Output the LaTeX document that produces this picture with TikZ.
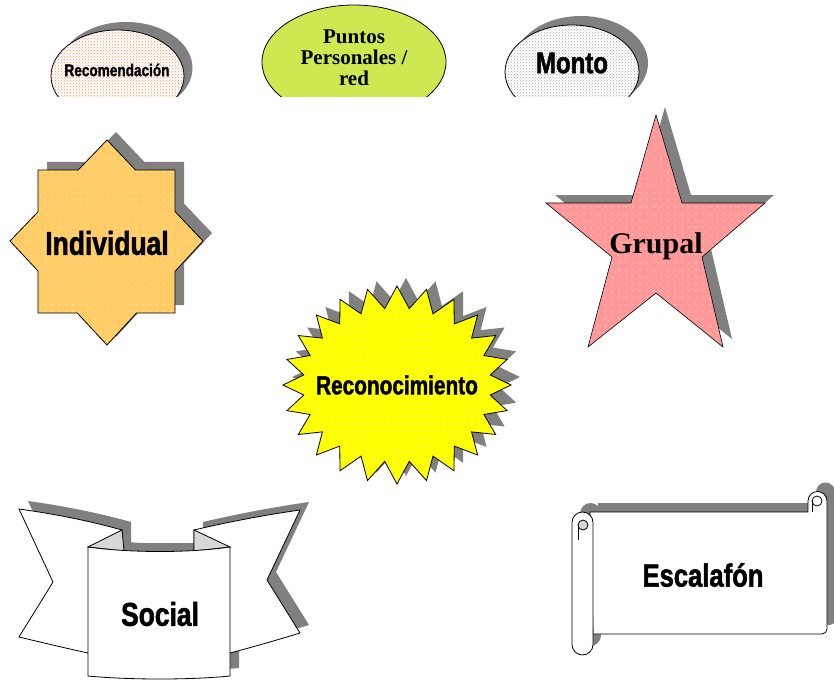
\documentclass[tikz,border=0pt]{standalone}
\usepackage{fontspec}
\setmainfont{Liberation Serif}
\newfontfamily\imp[FakeStretch=0.8,BoldFeatures={FakeBold=1.6}]{Liberation Sans}
\usetikzlibrary{patterns,patterns.meta}
\definecolor{shd}{RGB}{128,128,128}
\definecolor{indfill}{RGB}{255,204,102}
\definecolor{grufill}{RGB}{255,153,153}
\definecolor{burstfill}{RGB}{255,255,0}
\definecolor{limefill}{RGB}{206,232,82}
\definecolor{dotorange}{RGB}{250,150,90}
\definecolor{foldgray}{RGB}{215,215,215}
\tikzdeclarepattern{
  name=wdots,
  type=uncolored,
  bounding box={(0pt,0pt) and (7pt,7pt)},
  tile size={(7pt,7pt)},
  code={\fill (3.5pt,3.5pt) circle (0.7pt);}
}
\begin{document}
\begin{tikzpicture}[x=1pt,y=-1pt,line join=miter,
  outl/.style={draw=black,line width=0.8pt},
  shadowfill/.style={fill=shd},
  wdotfill/.style={pattern=wdots,pattern color=white},
  imptext/.style={font=\imp\bfseries\fontsize{#1}{#1}\selectfont},
  sertext/.style={font=\bfseries\fontsize{#1}{#1}\selectfont}]
\useasboundingbox (0,0) rectangle (834,679);

% ---------- top ellipses (clipped) ----------
\begin{scope}
\clip (0,0) rectangle (834,97);
% Recomendacion
\fill[shadowfill] (126,68) ellipse [x radius=66.5, y radius=46];
\fill[white] (117.5,76) ellipse [x radius=66.5, y radius=46];
\fill[pattern=crosshatch dots,pattern color=dotorange] (117.5,76) ellipse [x radius=66.5, y radius=46];
\draw[outl] (117.5,76) ellipse [x radius=66.5, y radius=46];
% Puntos
\fill[limefill] (354,62) ellipse [x radius=92, y radius=57];
\draw[outl] (354,62) ellipse [x radius=92, y radius=57];
% Monto
\fill[shadowfill] (581,63) ellipse [x radius=67, y radius=47];
\fill[white] (572,72) ellipse [x radius=67, y radius=47];
\fill[pattern=crosshatch dots,pattern color=gray!70] (572,72) ellipse [x radius=67, y radius=47];
\draw[outl] (572,72) ellipse [x radius=67, y radius=47];
\end{scope}
\node[imptext=17] (recom) at (117,70) {Recomendación};
\node[sertext=21,align=center,text depth=0pt] (puntos) at (354,58) {Puntos\\[0pt]Personales /\\[0pt]red};
\node[imptext=30] (monto) at (572,63) {Monto};

% ---------- Individual (8-point star) ----------
\def\indpath{(107,140) -- (135.5,170) -- (175,170) -- (175,211.5) -- (203,241) -- (175,271.4) -- (175,313) -- (136.5,313) -- (107,345) -- (77.2,313) -- (38,313) -- (38,271) -- (10,241) -- (38,211.8) -- (38,170) -- (78.2,170) -- cycle}
\fill[shadowfill,shift={(9,-8)}] \indpath;
\fill[indfill] \indpath;
\fill[wdotfill] \indpath;
\draw[outl] \indpath;
\node[imptext=33] (individual) at (107,243) {Individual};

% ---------- Grupal (5-point star) ----------
\def\grupath{(656,115) -- (682,203) -- (765,203) -- (702,257) -- (723,347) -- (656,293) -- (588,347) -- (612,257) -- (546,203) -- (631,203) -- cycle}
\fill[shadowfill,shift={(9,-8)}] \grupath;
\fill[grufill] \grupath;
\fill[wdotfill] \grupath;
\draw[outl,line width=0.6pt] \grupath;
\node[sertext=30,anchor=base] (grupal) at (656,253) {Grupal};

% ---------- Reconocimiento (24-point burst) ----------
\def\burstpath{plot[samples at={0,...,47}] ({397+(114-20*mod(\x,2))*cos(90+7.5*\x)},{385-(99-22*mod(\x,2))*sin(90+7.5*\x)}) -- cycle}
\fill[shadowfill,shift={(9,-8)}] \burstpath;
\fill[burstfill] \burstpath;
\fill[wdotfill] \burstpath;
\draw[outl] \burstpath;
\node[imptext=26] (recon) at (397,385) {Reconocimiento};

% ---------- Social (ribbon) ----------
\def\lwing{(19,509) .. controls (55,514) and (90,521) .. (122,530) -- (122,600) -- (88,653) .. controls (65,648) and (40,642) .. (19,637) -- (53,582) -- cycle}
\def\rwing{(300,510) .. controls (265,515) and (228,522) .. (194,530) -- (194,600) -- (230,653) .. controls (253,647) and (277,640) .. (300,633) -- (267,580) -- cycle}
\def\backstrip{(124,551) -- (194,551) -- (194,600) -- (124,600) -- cycle}
\def\panel{(88,547) .. controls (130,553) and (190,553) .. (230,547) -- (230,676) .. controls (190,680) and (130,680) .. (88,676) -- cycle}
\begin{scope}[shift={(9,-8)}]
\fill[shadowfill] \lwing;
\fill[shadowfill] \rwing;
\fill[shadowfill] \backstrip;
\fill[shadowfill] \panel;
\end{scope}
\filldraw[outl,fill=white] \lwing;
\filldraw[outl,fill=white] \rwing;
\fill[white] \backstrip;
\filldraw[outl,fill=foldgray] (122,530) -- (88,547) -- (124,551) -- cycle;
\filldraw[outl,fill=foldgray] (194,530) -- (230,547) -- (194,551) -- cycle;
\filldraw[outl,fill=white] \panel;
\node[imptext=33] (social) at (160,614) {Social};

% ---------- Escalafon (scroll) ----------
\def\scrollbody{(590,512) -- (808,512) -- (808,501) arc[start angle=180,end angle=360,radius=9.5] -- (827,629) arc[start angle=0,end angle=90,radius=5] -- (593,634) -- cycle}
\def\scrollroll{(572,522.5) arc[start angle=180,end angle=360,radius=10.5] -- (593,644.5) arc[start angle=0,end angle=180,radius=10.5] -- cycle}
\begin{scope}[shift={(8,-9)}]
\fill[shadowfill] \scrollbody;
\fill[shadowfill] \scrollroll;
\end{scope}
\filldraw[outl,fill=white] \scrollbody;
\filldraw[outl,fill=white] \scrollroll;
\filldraw[outl,fill=foldgray] (583,525) circle (5);
\draw[outl] (578,525) -- (578,540);
\filldraw[outl,fill=white] (817,501) circle (5);
\draw[outl] (812,501) -- (812,512);
\node[imptext=32] (escal) at (703,575) {Escalafón};
\end{tikzpicture}
\end{document}
